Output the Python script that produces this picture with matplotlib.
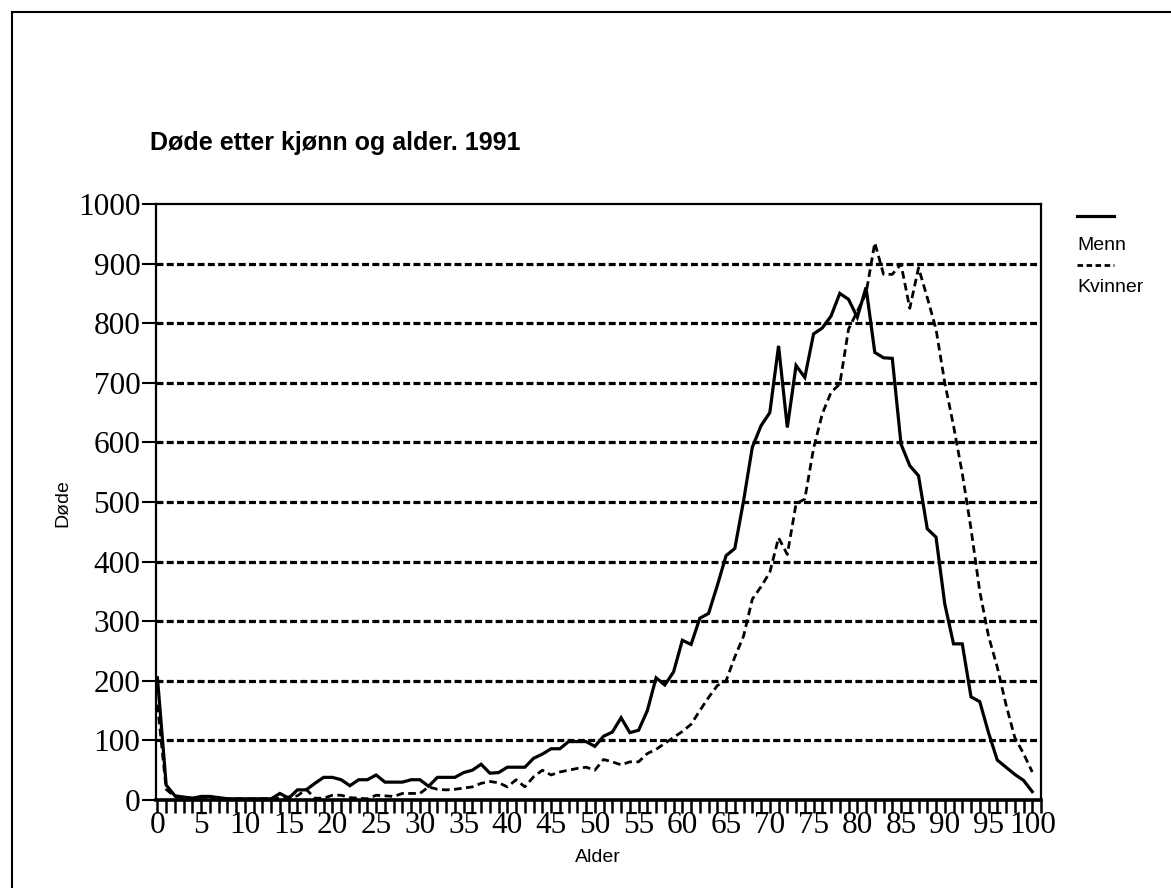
import matplotlib
matplotlib.use("Agg")
import matplotlib.pyplot as plt
from matplotlib.lines import Line2D
from matplotlib.patches import Rectangle
from matplotlib.ticker import MultipleLocator

plt.rcParams['lines.scale_dashes'] = False

title = "Døde etter kjønn og alder. 1991"
x_label = "Alder"
y_label = "Døde"
series_names = ["Menn", "Kvinner"]

ages = list(range(0, 101))

menn = [205, 25, 7, 5, 3, 6, 6, 4, 2, 2,
        2, 2, 2, 2, 11, 3, 17, 17, 28, 38,
        38, 34, 24, 34, 34, 42, 30, 30, 30, 34,
        34, 23, 38, 38, 38, 46, 50, 60, 45, 46,
        55, 55, 55, 70, 77, 86, 86, 98, 98, 98,
        90, 107, 114, 138, 113, 117, 150, 205, 193, 215,
        268, 261, 305, 313, 360, 410, 422, 502, 592, 628,
        650, 762, 625, 729, 709, 782, 792, 812, 850, 840,
        810, 860, 751, 742, 741, 597, 561, 544, 455, 441,
        329, 262, 262, 173, 165, 113, 67, 55, 43, 33,
        14]

kvinner = [160, 18, 5, 4, 3, 3, 2, 2, 2, 2,
           2, 2, 2, 2, 3, 5, 7, 18, 3, 3,
           8, 8, 4, 3, 2, 8, 7, 6, 11, 11,
           11, 22, 18, 17, 18, 20, 22, 28, 31, 29,
           22, 34, 22, 39, 50, 42, 47, 50, 53, 55,
           50, 68, 64, 59, 64, 64, 78, 85, 95, 105,
           115, 127, 150, 172, 192, 200, 240, 275, 337, 358,
           382, 440, 412, 497, 505, 590, 648, 684, 698, 790,
           820, 850, 935, 882, 882, 899, 825, 893, 843, 790,
           700, 628, 548, 455, 350, 275, 223, 160, 105, 78,
           47]

y_ticks = list(range(0, 1001, 100))
x_ticks_major = list(range(0, 101, 5))
grid_levels = list(range(100, 1000, 100))

W, H = 1171, 888
fig = plt.figure(figsize=(W / 100, H / 100), dpi=100)
fig.patch.set_facecolor("white")

# outer frame
fig.add_artist(Rectangle((12 / W, -0.05), 1.2, 1 - 12 / H + 0.05,
                         transform=fig.transFigure, fill=False,
                         edgecolor="black", linewidth=1.5))

left, right, top, bottom = 155.7, 1041, 204, 800
ax = fig.add_axes([left / W, 1 - bottom / H, (right - left) / W, (bottom - top) / H])
ax.set_xlim(-0.2, 101.0)
ax.set_ylim(0, 1000)

for g in grid_levels:
    ax.axhline(g, color="black", linewidth=2.3, linestyle=(0, (5.0, 2.4)), zorder=1)

ax.plot(ages, menn, color="black", linewidth=2.3, solid_joinstyle="miter", zorder=3)
ax.plot(ages, kvinner, color="black", linewidth=2.0, linestyle=(0, (5.5, 3.2)), zorder=3)

for s in ["left", "top", "right"]:
    ax.spines[s].set_linewidth(1.6)
ax.spines["bottom"].set_linewidth(2.6)

serif = ["Liberation Serif", "DejaVu Serif"]
ax.set_yticks(y_ticks)
ax.set_yticklabels([str(v) for v in y_ticks], family=serif, fontsize=22.5)
ax.xaxis.set_minor_locator(MultipleLocator(1))
ax.set_xticks(x_ticks_major)
ax.set_xticklabels([str(v) for v in x_ticks_major], family=serif, fontsize=22.5)
ax.tick_params(axis="y", direction="out", length=10, width=1.5, pad=1)
ax.tick_params(axis="x", which="both", direction="out", length=9, width=1.8, pad=-1)

sans = ["Liberation Sans", "DejaVu Sans"]
fig.text(598 / W, 1 - 857 / H, x_label, ha="center", va="center",
         family=sans, fontsize=14)
fig.text(63 / W, 1 - 503 / H, y_label, ha="center", va="center", rotation=90,
         family=sans, fontsize=14)
fig.text(150 / W, 1 - 143 / H, title, ha="left", va="center",
         family=sans, fontweight="bold", fontsize=18)

# legend (manual layout: sample line above label)
fig.add_artist(Line2D([1077 / W, 1114 / W], [1 - 216 / H, 1 - 216 / H],
                      transform=fig.transFigure, color="black", linewidth=2.3))
fig.text(1077 / W, 1 - 245 / H, series_names[0], ha="left", va="center",
         family=sans, fontsize=14)
fig.add_artist(Line2D([1077 / W, 1114 / W], [1 - 265 / H, 1 - 265 / H],
                      transform=fig.transFigure, color="black", linewidth=2.0,
                      linestyle=(0, (4.0, 2.5))))
fig.text(1077 / W, 1 - 288 / H, series_names[1], ha="left", va="center",
         family=sans, fontsize=14)

fig.savefig("out.png", dpi=100)
